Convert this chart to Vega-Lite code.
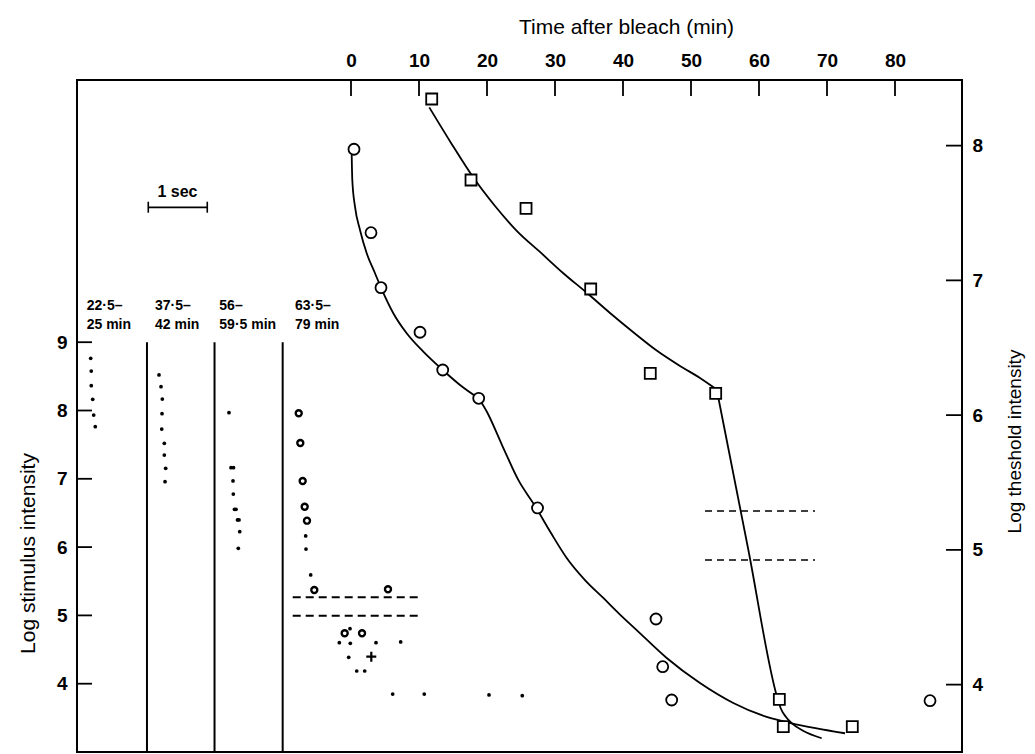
{
  "$schema": "https://vega.github.io/schema/vega-lite/v6.json",
  "width": 885,
  "height": 672,
  "autosize": {"type": "none"},
  "padding": {"left": 77, "top": 80, "right": 73, "bottom": 2},
  "background": "white",
  "config": {
    "view": {"stroke": "black", "strokeWidth": 2},
    "font": "Liberation Sans",
    "axis": {"labelColor": "black", "titleColor": "black", "labelFont": "Liberation Sans", "titleFont": "Liberation Sans"}
  },
  "datasets": {
    "lvr": [
      {"kind": "sep", "sec": 1.186, "stim": 3.0, "stim2": 9.0},
      {"kind": "sep", "sec": 2.331, "stim": 3.0, "stim2": 9.0},
      {"kind": "sep", "sec": 3.486, "stim": 3.0, "stim2": 9.0},
      {"kind": "cap", "sec": 1.208, "stim": 10.896, "stim2": 11.057},
      {"kind": "cap", "sec": 2.208, "stim": 10.896, "stim2": 11.057}
    ],
    "lhr": [
      {"kind": "tick", "sec": 0, "sec2": 0.254, "stim": 4},
      {"kind": "tick", "sec": 0, "sec2": 0.254, "stim": 5},
      {"kind": "tick", "sec": 0, "sec2": 0.254, "stim": 6},
      {"kind": "tick", "sec": 0, "sec2": 0.254, "stim": 7},
      {"kind": "tick", "sec": 0, "sec2": 0.254, "stim": 8},
      {"kind": "tick", "sec": 0, "sec2": 0.254, "stim": 9},
      {"kind": "bar", "sec": 1.208, "sec2": 2.208, "stim": 10.975},
      {"kind": "dash", "sec": 3.656, "sec2": 5.802, "stim": 5.265},
      {"kind": "dash", "sec": 3.656, "sec2": 5.802, "stim": 4.996}
    ],
    "ldots": [
      {"kind": "dot", "sec": 0.232, "stim": 8.764},
      {"kind": "dot", "sec": 0.242, "stim": 8.578},
      {"kind": "dot", "sec": 0.242, "stim": 8.363},
      {"kind": "dot", "sec": 0.266, "stim": 8.164},
      {"kind": "dot", "sec": 0.283, "stim": 7.934},
      {"kind": "dot", "sec": 0.310, "stim": 7.763},
      {"kind": "dot", "sec": 1.390, "stim": 8.520},
      {"kind": "dot", "sec": 1.424, "stim": 8.349},
      {"kind": "dot", "sec": 1.446, "stim": 8.168},
      {"kind": "dot", "sec": 1.441, "stim": 7.953},
      {"kind": "dot", "sec": 1.436, "stim": 7.729},
      {"kind": "dot", "sec": 1.480, "stim": 7.520},
      {"kind": "dot", "sec": 1.480, "stim": 7.348},
      {"kind": "dot", "sec": 1.503, "stim": 7.154},
      {"kind": "dot", "sec": 1.492, "stim": 6.958},
      {"kind": "dot", "sec": 2.576, "stim": 7.968},
      {"kind": "dot", "sec": 2.610, "stim": 7.163},
      {"kind": "dot", "sec": 2.653, "stim": 7.163},
      {"kind": "dot", "sec": 2.644, "stim": 6.968},
      {"kind": "dot", "sec": 2.649, "stim": 6.777},
      {"kind": "dot", "sec": 2.669, "stim": 6.553},
      {"kind": "dot", "sec": 2.695, "stim": 6.553},
      {"kind": "dot", "sec": 2.720, "stim": 6.397},
      {"kind": "dot", "sec": 2.746, "stim": 6.397},
      {"kind": "dot", "sec": 2.758, "stim": 6.225},
      {"kind": "dot", "sec": 2.734, "stim": 5.982},
      {"kind": "dot", "sec": 3.876, "stim": 6.163},
      {"kind": "dot", "sec": 3.881, "stim": 5.972},
      {"kind": "dot", "sec": 3.961, "stim": 5.592},
      {"kind": "dot", "sec": 4.627, "stim": 4.805},
      {"kind": "dot", "sec": 4.446, "stim": 4.600},
      {"kind": "dot", "sec": 4.632, "stim": 4.592},
      {"kind": "dot", "sec": 5.068, "stim": 4.600},
      {"kind": "dot", "sec": 5.486, "stim": 4.611},
      {"kind": "dot", "sec": 4.605, "stim": 4.387},
      {"kind": "dot", "sec": 4.741, "stim": 4.186},
      {"kind": "dot", "sec": 4.876, "stim": 4.186},
      {"kind": "dot", "sec": 5.351, "stim": 3.849},
      {"kind": "dot", "sec": 5.886, "stim": 3.849},
      {"kind": "dot", "sec": 6.983, "stim": 3.835},
      {"kind": "dot", "sec": 7.547, "stim": 3.824},
      {"kind": "ring", "sec": 3.758, "stim": 7.959},
      {"kind": "ring", "sec": 3.785, "stim": 7.524},
      {"kind": "ring", "sec": 3.825, "stim": 6.968},
      {"kind": "ring", "sec": 3.859, "stim": 6.591},
      {"kind": "ring", "sec": 3.898, "stim": 6.387},
      {"kind": "ring", "sec": 4.022, "stim": 5.372},
      {"kind": "ring", "sec": 5.271, "stim": 5.382},
      {"kind": "ring", "sec": 4.537, "stim": 4.738},
      {"kind": "ring", "sec": 4.831, "stim": 4.738},
      {"kind": "plus", "sec": 4.988, "stim": 4.395}
    ],
    "llabels": [
      {"text": "22·5–", "sec": 0.164, "stim": 9.530},
      {"text": "25 min", "sec": 0.164, "stim": 9.252},
      {"text": "37·5–", "sec": 1.322, "stim": 9.530},
      {"text": "42 min", "sec": 1.322, "stim": 9.252},
      {"text": "56–", "sec": 2.412, "stim": 9.530},
      {"text": "59·5 min", "sec": 2.412, "stim": 9.252},
      {"text": "63·5–", "sec": 3.695, "stim": 9.530},
      {"text": "79 min", "sec": 3.695, "stim": 9.252}
    ],
    "lscale": [
      {"text": "1 sec", "sec": 1.703, "stim": 11.204}
    ],
    "curves": [
      {"seg": "lowerA", "t": 0.103, "w": 7.930},
      {"seg": "lowerA", "t": 0.191, "w": 7.745},
      {"seg": "lowerA", "t": 0.588, "w": 7.547},
      {"seg": "lowerA", "t": 1.324, "w": 7.374},
      {"seg": "lowerA", "t": 2.309, "w": 7.201},
      {"seg": "lowerA", "t": 3.529, "w": 7.053},
      {"seg": "lowerA", "t": 4.412, "w": 6.946},
      {"seg": "lowerA", "t": 6.221, "w": 6.756},
      {"seg": "lowerA", "t": 8.191, "w": 6.607},
      {"seg": "lowerA", "t": 10.63, "w": 6.471},
      {"seg": "lowerA", "t": 13.49, "w": 6.335},
      {"seg": "lowerA", "t": 16.03, "w": 6.224},
      {"seg": "lowerA", "t": 18.78, "w": 6.125},
      {"seg": "lowerB", "t": 18.78, "w": 6.125},
      {"seg": "lowerB", "t": 20.0, "w": 6.023},
      {"seg": "lowerB", "t": 22.21, "w": 5.778},
      {"seg": "lowerB", "t": 24.60, "w": 5.519},
      {"seg": "lowerB", "t": 27.06, "w": 5.326},
      {"seg": "lowerB", "t": 29.41, "w": 5.125},
      {"seg": "lowerB", "t": 31.72, "w": 4.940},
      {"seg": "lowerB", "t": 34.41, "w": 4.776},
      {"seg": "lowerB", "t": 37.10, "w": 4.643},
      {"seg": "lowerB", "t": 39.56, "w": 4.520},
      {"seg": "lowerB", "t": 42.01, "w": 4.405},
      {"seg": "lowerB", "t": 46.43, "w": 4.198},
      {"seg": "lowerB", "t": 51.32, "w": 4.012},
      {"seg": "lowerB", "t": 56.22, "w": 3.864},
      {"seg": "lowerB", "t": 61.13, "w": 3.760},
      {"seg": "lowerB", "t": 64.81, "w": 3.713},
      {"seg": "lowerB", "t": 68.49, "w": 3.676},
      {"seg": "lowerB", "t": 72.65, "w": 3.639},
      {"seg": "upperA", "t": 11.51, "w": 8.284},
      {"seg": "upperA", "t": 14.71, "w": 8.020},
      {"seg": "upperA", "t": 17.94, "w": 7.767},
      {"seg": "upperA", "t": 21.18, "w": 7.552},
      {"seg": "upperA", "t": 24.41, "w": 7.366},
      {"seg": "upperA", "t": 27.79, "w": 7.211},
      {"seg": "upperA", "t": 31.18, "w": 7.055},
      {"seg": "upperA", "t": 34.71, "w": 6.906},
      {"seg": "upperA", "t": 38.09, "w": 6.758},
      {"seg": "upperA", "t": 41.47, "w": 6.617},
      {"seg": "upperA", "t": 44.85, "w": 6.483},
      {"seg": "upperA", "t": 48.38, "w": 6.365},
      {"seg": "upperA", "t": 51.32, "w": 6.276},
      {"seg": "upperA", "t": 53.68, "w": 6.194},
      {"seg": "upperB", "t": 53.97, "w": 6.142},
      {"seg": "upperB", "t": 58.38, "w": 5.014},
      {"seg": "upperB", "t": 62.79, "w": 3.886},
      {"seg": "upperB", "t": 63.24, "w": 3.819},
      {"seg": "upperB", "t": 63.97, "w": 3.760},
      {"seg": "upperB", "t": 64.85, "w": 3.712},
      {"seg": "upperB", "t": 66.47, "w": 3.658},
      {"seg": "upperB", "t": 69.22, "w": 3.602}
    ],
    "rdash": [
      {"t": 52.06, "t2": 68.24, "w": 5.289},
      {"t": 52.06, "t2": 68.24, "w": 4.925}
    ],
    "marks": [
      {"marker": "square", "t": 11.87, "w": 8.346},
      {"marker": "square", "t": 17.65, "w": 7.745},
      {"marker": "square", "t": 25.74, "w": 7.535},
      {"marker": "square", "t": 35.25, "w": 6.936},
      {"marker": "square", "t": 44.01, "w": 6.310},
      {"marker": "square", "t": 53.63, "w": 6.162},
      {"marker": "square", "t": 62.99, "w": 3.891},
      {"marker": "square", "t": 63.57, "w": 3.688},
      {"marker": "square", "t": 73.72, "w": 3.688},
      {"marker": "circle", "t": 0.44, "w": 7.973},
      {"marker": "circle", "t": 2.94, "w": 7.354},
      {"marker": "circle", "t": 4.41, "w": 6.946},
      {"marker": "circle", "t": 10.15, "w": 6.615},
      {"marker": "circle", "t": 13.49, "w": 6.335},
      {"marker": "circle", "t": 18.78, "w": 6.125},
      {"marker": "circle", "t": 27.43, "w": 5.311},
      {"marker": "circle", "t": 44.85, "w": 4.487},
      {"marker": "circle", "t": 45.84, "w": 4.133},
      {"marker": "circle", "t": 47.16, "w": 3.886},
      {"marker": "circle", "t": 85.15, "w": 3.881}
    ],
    "topticks": [
      {"t": 0, "w": 8.487, "w2": 8.368},
      {"t": 10, "w": 8.487, "w2": 8.368},
      {"t": 20, "w": 8.487, "w2": 8.368},
      {"t": 30, "w": 8.487, "w2": 8.368},
      {"t": 40, "w": 8.487, "w2": 8.368},
      {"t": 50, "w": 8.487, "w2": 8.368},
      {"t": 60, "w": 8.487, "w2": 8.368},
      {"t": 70, "w": 8.487, "w2": 8.368},
      {"t": 80, "w": 8.487, "w2": 8.368}
    ],
    "rightticks": [
      {"t": 87.5, "t2": 89.853, "w": 4},
      {"t": 87.5, "t2": 89.853, "w": 5},
      {"t": 87.5, "t2": 89.853, "w": 6},
      {"t": 87.5, "t2": 89.853, "w": 7},
      {"t": 87.5, "t2": 89.853, "w": 8}
    ]
  },
  "layer": [
    {
      "encoding": {
        "x": {"field": "sec", "type": "quantitative", "scale": {"domain": [0, 15], "nice": false, "zero": false}, "axis": null},
        "y": {
          "field": "stim", "type": "quantitative",
          "scale": {"domain": [3.0, 12.839], "nice": false, "zero": false},
          "axis": {
            "orient": "left", "values": [4, 5, 6, 7, 8, 9], "ticks": false, "tickSize": 0, "domain": false, "grid": false,
            "labelFontSize": 19, "labelFontWeight": "bold", "labelPadding": 10, "labelOverlap": false,
            "title": "Log stimulus intensity", "titleFontSize": 21, "titleFontWeight": "normal",
            "titleAngle": 270, "titleX": -49, "titleY": 473, "titleAlign": "center", "titleBaseline": "middle"
          }
        }
      },
      "layer": [
        {
          "data": {"name": "lvr"},
          "transform": [{"filter": "datum.kind == 'sep'"}],
          "mark": {"type": "rule", "stroke": "black", "strokeWidth": 2},
          "encoding": {"y2": {"field": "stim2"}}
        },
        {
          "data": {"name": "lvr"},
          "transform": [{"filter": "datum.kind == 'cap'"}],
          "mark": {"type": "rule", "stroke": "black", "strokeWidth": 1.6},
          "encoding": {"y2": {"field": "stim2"}}
        },
        {
          "data": {"name": "lhr"},
          "transform": [{"filter": "datum.kind != 'dash'"}],
          "mark": {"type": "rule", "stroke": "black", "strokeWidth": 1.8},
          "encoding": {"x2": {"field": "sec2"}}
        },
        {
          "data": {"name": "lhr"},
          "transform": [{"filter": "datum.kind == 'dash'"}],
          "mark": {"type": "rule", "stroke": "black", "strokeWidth": 2, "strokeDash": [8, 5]},
          "encoding": {"x2": {"field": "sec2"}}
        },
        {
          "data": {"name": "ldots"},
          "transform": [{"filter": "datum.kind == 'dot'"}],
          "mark": {"type": "point", "shape": "circle", "filled": true, "color": "black", "size": 14, "opacity": 1}
        },
        {
          "data": {"name": "ldots"},
          "transform": [{"filter": "datum.kind == 'ring'"}],
          "mark": {"type": "point", "shape": "circle", "fill": "white", "fillOpacity": 1, "stroke": "black", "strokeWidth": 2.4, "size": 36, "opacity": 1}
        },
        {
          "data": {"name": "ldots"},
          "transform": [{"filter": "datum.kind == 'plus'"}],
          "mark": {"type": "point", "shape": "M-1,0H1M0,-1V1", "filled": false, "stroke": "black", "strokeWidth": 2.2, "size": 100, "opacity": 1}
        },
        {
          "data": {"name": "llabels"},
          "mark": {"type": "text", "align": "left", "baseline": "middle", "fontSize": 14, "fontWeight": "bold", "font": "Liberation Sans", "color": "black"},
          "encoding": {"text": {"field": "text"}}
        },
        {
          "data": {"name": "lscale"},
          "mark": {"type": "text", "align": "center", "baseline": "middle", "fontSize": 16, "fontWeight": "bold", "font": "Liberation Sans", "color": "black"},
          "encoding": {"text": {"field": "text"}}
        }
      ]
    },
    {
      "encoding": {
        "x": {
          "field": "t", "type": "quantitative",
          "scale": {"domain": [-40.294, 89.853], "nice": false, "zero": false},
          "axis": {
            "orient": "top", "values": [0, 10, 20, 30, 40, 50, 60, 70, 80], "ticks": false, "tickSize": 0, "domain": false, "grid": false,
            "labelFontSize": 19, "labelFontWeight": "bold", "labelPadding": 10, "labelFlush": false, "labelOverlap": false,
            "title": "Time after bleach (min)", "titleFontSize": 21, "titleFontWeight": "normal",
            "titleX": 549, "titleY": -47, "titleAlign": "center", "titleBaseline": "alphabetic"
          }
        },
        "y": {
          "field": "w", "type": "quantitative",
          "scale": {"domain": [3.5, 8.487], "nice": false, "zero": false},
          "axis": {
            "orient": "right", "values": [4, 5, 6, 7, 8], "ticks": false, "tickSize": 0, "domain": false, "grid": false,
            "labelFontSize": 19, "labelFontWeight": "bold", "labelPadding": 10, "labelOverlap": false,
            "title": "Log theshold intensity", "titleFontSize": 19, "titleFontWeight": "normal",
            "titleAngle": 270, "titleX": 52, "titleY": 361, "titleAlign": "center", "titleBaseline": "middle"
          }
        }
      },
      "layer": [
        {
          "data": {"name": "curves"},
          "mark": {"type": "line", "stroke": "black", "strokeWidth": 1.8, "interpolate": "monotone"},
          "encoding": {"detail": {"field": "seg", "type": "nominal"}}
        },
        {
          "data": {"name": "rdash"},
          "mark": {"type": "rule", "stroke": "black", "strokeWidth": 1.6, "strokeDash": [7, 5]},
          "encoding": {"x2": {"field": "t2"}}
        },
        {
          "data": {"name": "marks"},
          "mark": {"type": "point", "fill": "white", "fillOpacity": 1, "stroke": "black", "strokeWidth": 1.8, "size": 121, "opacity": 1},
          "encoding": {
            "shape": {"field": "marker", "type": "nominal", "scale": {"domain": ["circle", "square"], "range": ["circle", "square"]}, "legend": null}
          }
        },
        {
          "data": {"name": "topticks"},
          "mark": {"type": "rule", "stroke": "black", "strokeWidth": 1.8},
          "encoding": {"y2": {"field": "w2"}}
        },
        {
          "data": {"name": "rightticks"},
          "mark": {"type": "rule", "stroke": "black", "strokeWidth": 1.8},
          "encoding": {"x2": {"field": "t2"}}
        }
      ]
    }
  ],
  "resolve": {"scale": {"x": "independent", "y": "independent"}}
}
